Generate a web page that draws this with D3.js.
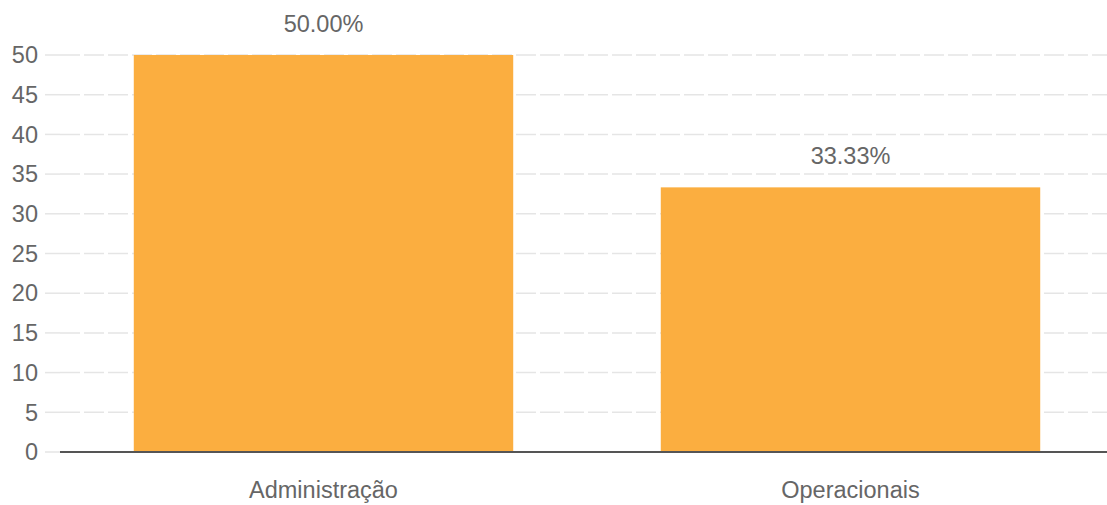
<!DOCTYPE html>
<html>
<head>
<meta charset="utf-8">
<script src="https://cdn.jsdelivr.net/npm/d3@7"></script>
<style>
  html, body { margin: 0; padding: 0; background: #fff; }
  svg { display: block; }
  text { font-family: "Liberation Sans", Arial, sans-serif; fill: #666; }
</style>
</head>
<body>
<svg id="chart" width="1107" height="505"></svg>
<script>
// Categories and their percentages
const categories = ["Administração", "Operacionais"];
const values = [50.00, 33.33];
const yTicks = [0, 5, 10, 15, 20, 25, 30, 35, 40, 45, 50];

const width = 1107, height = 505;
const plot = { left: 60, right: 1114, top: 55, bottom: 452 };
const fontSize = 23.5;

const svg = d3.select("#chart");

const x = d3.scaleBand()
  .domain(categories)
  .range([plot.left, plot.right])
  .paddingInner(0.28)
  .paddingOuter(0.14);

const y = d3.scaleLinear()
  .domain([0, 50])
  .range([plot.bottom, plot.top]);

// Horizontal grid: short solid tick then dashed line across the plot
const grid = svg.append("g");
grid.selectAll("line.tick")
  .data(yTicks)
  .join("line")
  .attr("class", "tick")
  .attr("x1", 45).attr("x2", plot.left)
  .attr("y1", d => y(d)).attr("y2", d => y(d))
  .attr("stroke", "#e5e5e5")
  .attr("stroke-width", 1.5);
grid.selectAll("line.grid")
  .data(yTicks.filter(d => d !== 0))
  .join("line")
  .attr("class", "grid")
  .attr("x1", plot.left).attr("x2", width)
  .attr("y1", d => y(d)).attr("y2", d => y(d))
  .attr("stroke", "#e5e5e5")
  .attr("stroke-width", 1.5)
  .attr("stroke-dasharray", "20,4");

// Y axis labels
svg.append("g").selectAll("text")
  .data(yTicks)
  .join("text")
  .attr("x", 38)
  .attr("y", d => y(d))
  .attr("dy", "0.35em")
  .attr("text-anchor", "end")
  .attr("font-size", fontSize)
  .text(d => d);

// Bars
svg.append("g").selectAll("rect")
  .data(values)
  .join("rect")
  .attr("x", (d, i) => x(categories[i]))
  .attr("width", x.bandwidth())
  .attr("y", d => y(d))
  .attr("height", d => y(0) - y(d))
  .attr("fill", "#fbae40");

// Value labels above bars
svg.append("g").selectAll("text")
  .data(values)
  .join("text")
  .attr("x", (d, i) => x(categories[i]) + x.bandwidth() / 2)
  .attr("y", d => y(d) - 23)
  .attr("text-anchor", "middle")
  .attr("font-size", fontSize)
  .text(d => d.toFixed(2) + "%");

// Baseline
svg.append("line")
  .attr("x1", plot.left).attr("x2", width)
  .attr("y1", y(0)).attr("y2", y(0))
  .attr("stroke", "#555")
  .attr("stroke-width", 2);

// Category labels
svg.append("g").selectAll("text")
  .data(categories)
  .join("text")
  .attr("x", d => x(d) + x.bandwidth() / 2)
  .attr("y", 498)
  .attr("text-anchor", "middle")
  .attr("font-size", fontSize)
  .text(d => d);
</script>
</body>
</html>
